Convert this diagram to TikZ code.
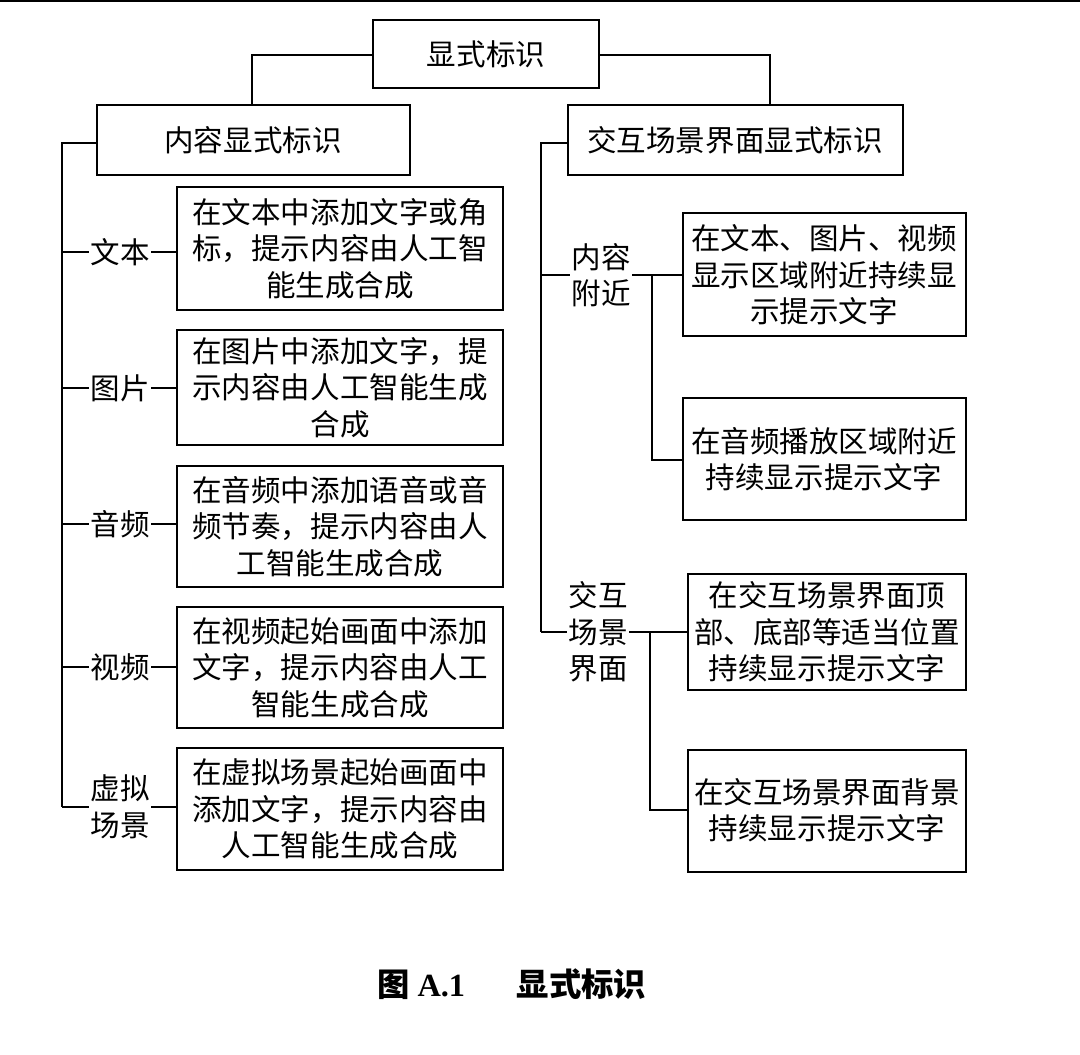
\documentclass[tikz,border=0pt]{standalone}
\usepackage{fontspec}
\setmainfont{Liberation Serif}
\newfontfamily\cjk{Noto Sans CJK SC}
\begin{document}
\begin{tikzpicture}[x=0.025cm,y=-0.025cm,
  box/.style={draw,line width=1pt,inner sep=0pt},
  t/.style={font=\cjk\fontsize{21}{26}\selectfont,align=center,inner sep=1pt},
  ln/.style={line width=1pt}]
\useasboundingbox (0,0) rectangle (1080,1054);
\draw[line width=1.5pt] (0,1) -- (1080,1);
% top
\draw[box] (373,20) rectangle (599,88);
\node[t] (top) at (486,54) {显式标识};
\draw[box] (97,105) rectangle (410,175);
\node[t] (L) at (253,140) {内容显式标识};
\draw[box] (568,105) rectangle (903,175);
\node[t] (R) at (735,140) {交互场景界面显式标识};
\draw[ln] (373,55) -- (252,55) -- (252,105);
\draw[ln] (599,55) -- (770,55) -- (770,105);
% left
\draw[ln] (97,143) -- (62,143) -- (62,807);
\foreach \ya/\yb/\lab/\txt/\ly in {
 187/310/文本/{在文本中添加文字或角\\标，提示内容由人工智\\能生成合成}/252,
 330/445/图片/{在图片中添加文字，提\\示内容由人工智能生成\\合成}/388,
 466/587/音频/{在音频中添加语音或音\\频节奏，提示内容由人\\工智能生成合成}/524,
 607/728/视频/{在视频起始画面中添加\\文字，提示内容由人工\\智能生成合成}/667,
 748/870/{虚拟\\场景}/{在虚拟场景起始画面中\\添加文字，提示内容由\\人工智能生成合成}/807}{
 \draw[box] (177,\ya) rectangle (503,\yb);
 \node[t] at (340,{(\ya+\yb)/2}) {\txt};
 \node[t] (lb) at (120,\ly) {\lab};
 \draw[ln] (62,\ly) -- (lb.west);
 \draw[ln] (lb.east) -- (177,\ly);
}
% right
\draw[ln] (568,143) -- (541,143) -- (541,632);
\node[t] (n1) at (601,275) {内容\\附近};
\draw[ln] (541,275) -- (n1.west|-0,275);
\draw[ln] (n1.east|-0,275) -- (683,275);
\draw[ln] (652,275) -- (652,460) -- (683,460);
\draw[box] (683,213) rectangle (966,336);
\node[t] at (824,275) {在文本、图片、视频\\显示区域附近持续显\\示提示文字};
\draw[box] (683,398) rectangle (966,520);
\node[t] at (824,459) {在音频播放区域附近\\持续显示提示文字};
\node[t] (n2) at (598,632) {交互\\场景\\界面};
\draw[ln] (541,632) -- (n2.west|-0,632);
\draw[ln] (n2.east|-0,632) -- (688,632);
\draw[ln] (650,632) -- (650,810) -- (688,810);
\draw[box] (688,574) rectangle (966,690);
\node[t] at (827,632) {在交互场景界面顶\\部、底部等适当位置\\持续显示提示文字};
\draw[box] (688,750) rectangle (966,872);
\node[t] at (827,810) {在交互场景界面背景\\持续显示提示文字};
\node[font=\cjk\bfseries\fontsize{23}{26}\selectfont] (cap) at (512,984) {图 \textbf{\rmfamily A.1}\hspace{1.6em}显式标识};
\end{tikzpicture}
\end{document}
